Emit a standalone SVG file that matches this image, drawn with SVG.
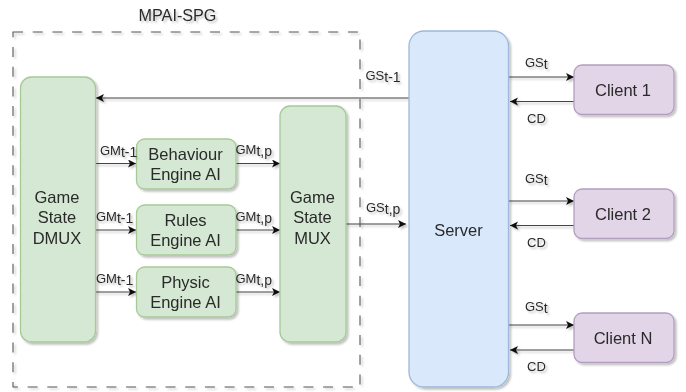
<svg xmlns="http://www.w3.org/2000/svg" width="686" height="392" viewBox="0 0 686 392">
<style>
text{font-family:"Liberation Sans",Arial,sans-serif;fill:#2a2a2a}
.n{font-size:16.5px;text-anchor:middle}
.l{font-size:13px}
.s{font-size:14px}
.g{fill:#d5e8d4;stroke:#a6c996;stroke-width:1.3}
.b{fill:#dae8fc;stroke:#9db8da;stroke-width:1.3}
.p{fill:#e1d5e7;stroke:#b39fbd;stroke-width:1.3}
.c{fill:none;stroke:#444;stroke-width:1.1;marker-end:url(#a)}
</style>
<defs>
<marker id="a" markerUnits="userSpaceOnUse" markerWidth="9" markerHeight="9" refX="8" refY="4" orient="auto"><path d="M0 0L8 4L0 8L2 4Z" fill="#111"/></marker>
<filter id="sh" x="-10%" y="-10%" width="125%" height="125%"><feGaussianBlur in="SourceAlpha" stdDeviation="1.3"/><feOffset dx="1.5" dy="2"/><feComponentTransfer result="o"><feFuncA type="linear" slope="0.25"/></feComponentTransfer><feGaussianBlur in="SourceGraphic" stdDeviation="0.35" result="m"/><feMerge><feMergeNode in="o"/><feMergeNode in="m"/></feMerge></filter>
</defs>
<g id="connectors" filter="url(#sh)">
<path d="M13 32H360V387H13Z" fill="none" stroke="#555" stroke-width="1.1" stroke-dasharray="10 9.700"/>
<path class="c" d="M409 98H96"/>
<path class="c" d="M95 163.500H136"/>
<path class="c" d="M87 230H136"/>
<path class="c" d="M95 292H136"/>
<path class="c" d="M236 163.500H280"/>
<path class="c" d="M236 230H280"/>
<path class="c" d="M236 292H280"/>
<path class="c" d="M346 224H406"/>
<path class="c" d="M508 77H574"/>
<path class="c" d="M574 101.500H510"/>
<path class="c" d="M508 201H574"/>
<path class="c" d="M574 225.500H510"/>
<path class="c" d="M508 325H574"/>
<path class="c" d="M574 350H510"/>
</g>
<g id="title" filter="url(#sh)"><text x="177.500" y="21" class="n" style="font-size:16.200px">MPAI-SPG</text></g>
<g id="dmux" filter="url(#sh)"><rect class="g" x="20.500" y="77" width="75" height="265" rx="11"/><text class="n" x="57" y="203">Game</text><text class="n" x="57" y="223">State</text><text class="n" x="57" y="243.500">DMUX</text></g>
<g id="behaviour" filter="url(#sh)"><rect class="g" x="136.500" y="139" width="99.500" height="50" rx="8"/><text class="n" x="185.500" y="160">Behaviour</text><text class="n" x="185.500" y="180">Engine AI</text></g>
<g id="rules" filter="url(#sh)"><rect class="g" x="136.500" y="205" width="99.500" height="50" rx="8"/><text class="n" x="185.500" y="226">Rules</text><text class="n" x="185.500" y="246">Engine AI</text></g>
<g id="physic" filter="url(#sh)"><rect class="g" x="136.500" y="267" width="99.500" height="50" rx="8"/><text class="n" x="185.500" y="288">Physic</text><text class="n" x="185.500" y="308">Engine AI</text></g>
<g id="mux" filter="url(#sh)"><rect class="g" x="280" y="106" width="66" height="236" rx="10"/><text class="n" x="312.500" y="203">Game</text><text class="n" x="312.500" y="223">State</text><text class="n" x="312.500" y="243.500">MUX</text></g>
<g id="server" filter="url(#sh)"><rect class="b" x="409" y="31" width="99.500" height="356" rx="15"/><text class="n" x="458.500" y="236">Server</text></g>
<g id="client1" filter="url(#sh)"><rect class="p" x="574" y="65" width="100" height="49.500" rx="8"/><text class="n" x="623" y="96">Client 1</text></g>
<g id="client2" filter="url(#sh)"><rect class="p" x="574" y="189" width="100" height="49.500" rx="8"/><text class="n" x="623" y="220">Client 2</text></g>
<g id="clientn" filter="url(#sh)"><rect class="p" x="574" y="313" width="100" height="49.500" rx="8"/><text class="n" x="623" y="344">Client N</text></g>
<g id="labels" filter="url(#sh)">
<text class="l" x="100" y="155">GM<tspan class="s" dy="2">t-1</tspan></text>
<text class="l" x="96" y="221">GM<tspan class="s" dy="2">t-1</tspan></text>
<text class="l" x="96" y="283">GM<tspan class="s" dy="2">t-1</tspan></text>
<text class="l" x="235.500" y="154">GM<tspan class="s" dy="2">t,p</tspan></text>
<text class="l" x="235.500" y="221">GM<tspan class="s" dy="2">t,p</tspan></text>
<text class="l" x="235.500" y="283">GM<tspan class="s" dy="2">t,p</tspan></text>
<text class="l" x="365.500" y="80">GS<tspan class="s" dy="2">t-1</tspan></text>
<text class="l" x="366" y="212">GS<tspan class="s" dy="2">t,p</tspan></text>
<text class="l" x="525" y="67">GS<tspan class="s" dy="2">t</tspan></text>
<text class="l" x="525" y="183">GS<tspan class="s" dy="2">t</tspan></text>
<text class="l" x="525" y="311">GS<tspan class="s" dy="2">t</tspan></text>
<text class="l" x="527" y="123">CD</text>
<text class="l" x="527" y="247">CD</text>
<text class="l" x="527" y="371">CD</text>
</g>
</svg>
